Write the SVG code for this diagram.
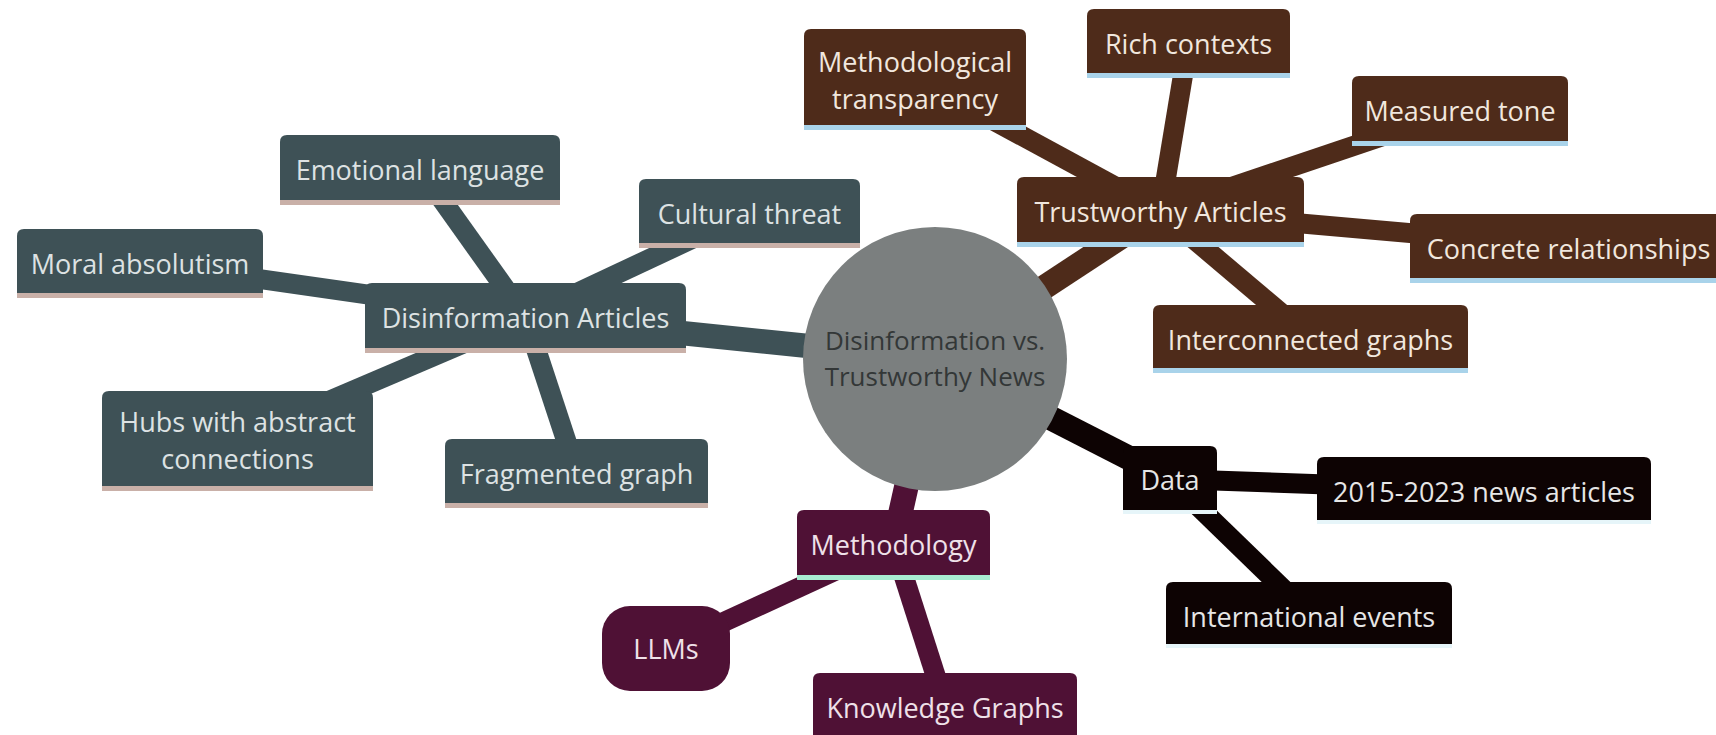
<svg xmlns="http://www.w3.org/2000/svg" width="1716" height="735" viewBox="0 0 1716 735">
<style>
text{font-family:"Open Sans","DejaVu Sans",sans-serif;font-size:27px;text-anchor:middle}
.e{fill:none;stroke-linecap:butt}
.d0{stroke-width:24.5}
.d1{stroke-width:20}
.e.s0{stroke:#3e5156}
.e.s1{stroke:#4e2b1a}
.e.s2{stroke:#0d0303}
.e.s3{stroke:#4f1135}
.f0{fill:#3e5156}.l0{fill:#c9b0a8}.t0{fill:#dde2e3}
.f1{fill:#4e2b1a}.l1{fill:#a9d3ea}.t1{fill:#f1e7de}
.f2{fill:#0d0303}.l2{fill:#e6f5f9}.t2{fill:#e6e6e6}
.f3{fill:#4f1135}.l3{fill:#a8ecd2}.t3{fill:#efe1e9}
.root{fill:#7b7f7f}
.rt{fill:#333737;font-size:26px}
</style>
<rect width="1716" height="735" fill="#ffffff"/>
<g id="connectors">
<line class="e s0 d0" x1="935" y1="359" x2="525.5" y2="317"/>
<line class="e s1 d0" x1="935" y1="359" x2="1160.5" y2="211"/>
<line class="e s2 d0" x1="935" y1="359" x2="1170" y2="479"/>
<line class="e s3 d0" x1="935" y1="359" x2="893.5" y2="544"/>
<line class="e s0 d1" x1="525.5" y1="317" x2="420" y2="169"/>
<line class="e s0 d1" x1="525.5" y1="317" x2="140" y2="262"/>
<line class="e s0 d1" x1="525.5" y1="317" x2="749.5" y2="212"/>
<line class="e s0 d1" x1="525.5" y1="317" x2="237.5" y2="440"/>
<line class="e s0 d1" x1="525.5" y1="317" x2="576.5" y2="472"/>
<line class="e s1 d1" x1="1160.5" y1="211" x2="915" y2="78"/>
<line class="e s1 d1" x1="1160.5" y1="211" x2="1188.5" y2="42"/>
<line class="e s1 d1" x1="1160.5" y1="211" x2="1460" y2="110"/>
<line class="e s1 d1" x1="1160.5" y1="211" x2="1568" y2="247"/>
<line class="e s1 d1" x1="1160.5" y1="211" x2="1310.5" y2="338"/>
<line class="e s2 d1" x1="1170" y1="479" x2="1484" y2="490"/>
<line class="e s2 d1" x1="1170" y1="479" x2="1309" y2="614"/>
<line class="e s3 d1" x1="893.5" y1="544" x2="666" y2="648.5"/>
<line class="e s3 d1" x1="893.5" y1="544" x2="945" y2="705"/>
</g>
<g id="root">
<circle class="root" cx="935" cy="359" r="132"/>
<text class="rt" x="935" y="350">Disinformation vs.<tspan x="935" dy="35.5">Trustworthy News</tspan></text>
</g>
<g id="disinfo">
<path class="f0" d="M365,348 V290 Q365,283 372,283 H679 Q686,283 686,290 V348 Z"/>
<rect class="l0" x="365" y="348" width="321" height="5"/>
<text class="t0" x="525.5" y="328">Disinformation Articles</text>
</g>
<g id="emotional">
<path class="f0" d="M280,200 V142 Q280,135 287,135 H553 Q560,135 560,142 V200 Z"/>
<rect class="l0" x="280" y="200" width="280" height="5"/>
<text class="t0" x="420" y="180">Emotional language</text>
</g>
<g id="moral">
<path class="f0" d="M17,293 V236 Q17,229 24,229 H256 Q263,229 263,236 V293 Z"/>
<rect class="l0" x="17" y="293" width="246" height="5"/>
<text class="t0" x="140" y="274">Moral absolutism</text>
</g>
<g id="cultural">
<path class="f0" d="M639,243 V186 Q639,179 646,179 H853 Q860,179 860,186 V243 Z"/>
<rect class="l0" x="639" y="243" width="221" height="5"/>
<text class="t0" x="749.5" y="224">Cultural threat</text>
</g>
<g id="hubs">
<path class="f0" d="M102,486 V398 Q102,391 109,391 H366 Q373,391 373,398 V486 Z"/>
<rect class="l0" x="102" y="486" width="271" height="5"/>
<text class="t0" x="237.5" y="432">Hubs with abstract<tspan x="237.5" dy="37">connections</tspan></text>
</g>
<g id="fragmented">
<path class="f0" d="M445,503 V446 Q445,439 452,439 H701 Q708,439 708,446 V503 Z"/>
<rect class="l0" x="445" y="503" width="263" height="5"/>
<text class="t0" x="576.5" y="484">Fragmented graph</text>
</g>
<g id="trustworthy">
<path class="f1" d="M1017,242 V184 Q1017,177 1024,177 H1297 Q1304,177 1304,184 V242 Z"/>
<rect class="l1" x="1017" y="242" width="287" height="5"/>
<text class="t1" x="1160.5" y="222">Trustworthy Articles</text>
</g>
<g id="methodological">
<path class="f1" d="M804,125 V36 Q804,29 811,29 H1019 Q1026,29 1026,36 V125 Z"/>
<rect class="l1" x="804" y="125" width="222" height="5"/>
<text class="t1" x="915" y="72">Methodological<tspan x="915" dy="37">transparency</tspan></text>
</g>
<g id="rich">
<path class="f1" d="M1087,73 V16 Q1087,9 1094,9 H1283 Q1290,9 1290,16 V73 Z"/>
<rect class="l1" x="1087" y="73" width="203" height="5"/>
<text class="t1" x="1188.5" y="54">Rich contexts</text>
</g>
<g id="measured">
<path class="f1" d="M1352,141 V83 Q1352,76 1359,76 H1561 Q1568,76 1568,83 V141 Z"/>
<rect class="l1" x="1352" y="141" width="216" height="5"/>
<text class="t1" x="1460" y="121">Measured tone</text>
</g>
<g id="concrete">
<path class="f1" d="M1410,278 V221 Q1410,214 1417,214 H1720 Q1727,214 1727,221 V278 Z"/>
<rect class="l1" x="1410" y="278" width="317" height="5"/>
<text class="t1" x="1568.5" y="259">Concrete relationships</text>
</g>
<g id="interconnected">
<path class="f1" d="M1153,368 V312 Q1153,305 1160,305 H1461 Q1468,305 1468,312 V368 Z"/>
<rect class="l1" x="1153" y="368" width="315" height="5"/>
<text class="t1" x="1310.5" y="350">Interconnected graphs</text>
</g>
<g id="data">
<path class="f2" d="M1123,510 V453 Q1123,446 1130,446 H1210 Q1217,446 1217,453 V510 Z"/>
<rect class="l2" x="1123" y="510" width="94" height="4"/>
<text class="t2" x="1170" y="490">Data</text>
</g>
<g id="articles2015">
<path class="f2" d="M1317,520 V464 Q1317,457 1324,457 H1644 Q1651,457 1651,464 V520 Z"/>
<rect class="l2" x="1317" y="520" width="334" height="4"/>
<text class="t2" x="1484" y="502">2015-2023 news articles</text>
</g>
<g id="international">
<path class="f2" d="M1166,644 V589 Q1166,582 1173,582 H1445 Q1452,582 1452,589 V644 Z"/>
<rect class="l2" x="1166" y="644" width="286" height="4"/>
<text class="t2" x="1309" y="627">International events</text>
</g>
<g id="methodology">
<path class="f3" d="M797,575 V517 Q797,510 804,510 H983 Q990,510 990,517 V575 Z"/>
<rect class="l3" x="797" y="575" width="193" height="5"/>
<text class="t3" x="893.5" y="555">Methodology</text>
</g>
<g id="llms">
<rect class="f3" x="602" y="606" width="128" height="85" rx="28" ry="28"/>
<text class="t3" x="666" y="659">LLMs</text>
</g>
<g id="knowledge">
<path class="f3" d="M813,737 V680 Q813,673 820,673 H1070 Q1077,673 1077,680 V737 Z"/>
<text class="t3" x="945" y="718">Knowledge Graphs</text>
</g>
</svg>
